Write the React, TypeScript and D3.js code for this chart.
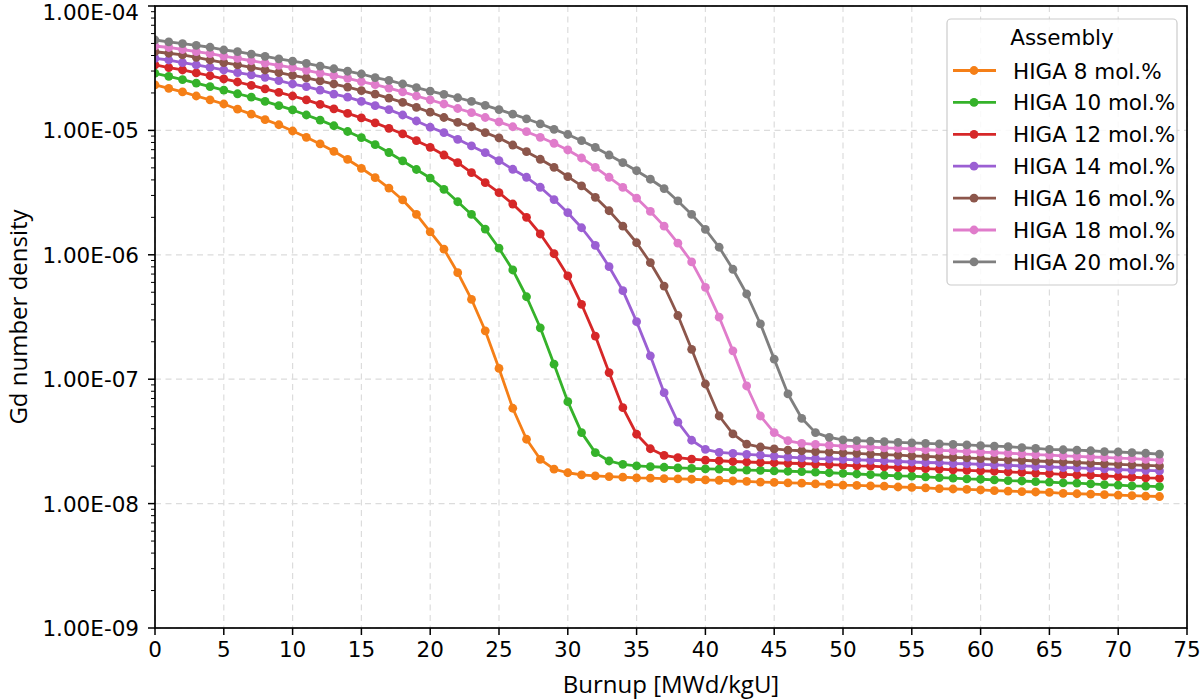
import React from 'react';
import * as d3 from 'd3';

const burnup = [0,1,2,3,4,5,6,7,8,9,10,11,12,13,14,15,16,17,18,19,20,21,22,23,24,25,26,27,28,29,30,31,32,33,34,35,36,37,38,39,40,41,42,43,44,45,46,47,48,49,50,51,52,53,54,55,56,57,58,59,60,61,62,63,64,65,66,67,68,69,70,71,72,73];

const higa8 = [2.32e-5,2.18e-5,2.04e-5,1.89e-5,1.76e-5,1.63e-5,1.48e-5,1.35e-5,1.22e-5,1.11e-5,
  9.89e-6,8.80e-6,7.78e-6,6.79e-6,5.84e-6,4.96e-6,4.17e-6,3.44e-6,2.76e-6,2.11e-6,1.53e-6,1.11e-6,
  7.18e-7,4.39e-7,2.45e-7,1.22e-7,
  5.84e-8,3.29e-8,2.27e-8,1.89e-8,1.77e-8,1.70e-8,1.67e-8,1.65e-8,1.63e-8,1.61e-8,
  1.60e-8,1.59e-8,1.58e-8,1.57e-8,1.55e-8,1.54e-8,1.52e-8,1.51e-8,1.49e-8,1.48e-8,
  1.47e-8,1.46e-8,1.44e-8,1.43e-8,1.41e-8,1.40e-8,1.39e-8,1.38e-8,1.36e-8,1.35e-8,
  1.34e-8,1.32e-8,1.31e-8,1.30e-8,1.29e-8,1.27e-8,1.26e-8,1.25e-8,1.24e-8,1.23e-8,
  1.21e-8,1.20e-8,1.19e-8,1.18e-8,1.17e-8,1.16e-8,1.15e-8,1.14e-8];

const higa10 = [2.88e-5,2.72e-5,2.56e-5,2.40e-5,2.25e-5,2.11e-5,1.97e-5,1.85e-5,1.71e-5,1.58e-5,1.46e-5,1.33e-5,1.21e-5,1.09e-5,
  9.80e-6,8.74e-6,7.68e-6,6.64e-6,5.68e-6,4.85e-6,4.14e-6,3.36e-6,2.67e-6,2.11e-6,1.61e-6,1.13e-6,
  7.55e-7,4.60e-7,2.59e-7,1.32e-7,
  6.60e-8,3.72e-8,2.57e-8,2.20e-8,2.07e-8,2.01e-8,1.98e-8,1.96e-8,1.94e-8,1.92e-8,
  1.90e-8,1.89e-8,1.87e-8,1.86e-8,1.85e-8,1.83e-8,1.82e-8,1.81e-8,1.79e-8,1.77e-8,
  1.75e-8,1.73e-8,1.71e-8,1.69e-8,1.67e-8,1.66e-8,1.64e-8,1.62e-8,1.60e-8,1.58e-8,
  1.57e-8,1.55e-8,1.53e-8,1.52e-8,1.50e-8,1.49e-8,1.47e-8,1.46e-8,1.44e-8,1.42e-8,
  1.41e-8,1.39e-8,1.38e-8,1.37e-8];

const higa12 = [3.36e-5,3.20e-5,3.06e-5,2.90e-5,2.75e-5,2.59e-5,2.45e-5,2.30e-5,2.16e-5,2.02e-5,1.89e-5,1.76e-5,1.62e-5,1.49e-5,1.37e-5,1.26e-5,1.15e-5,1.04e-5,
  9.36e-6,8.27e-6,7.31e-6,6.34e-6,5.50e-6,4.57e-6,3.80e-6,3.16e-6,2.56e-6,2.00e-6,1.47e-6,1.02e-6,
  6.76e-7,4.00e-7,2.22e-7,1.13e-7,
  5.90e-8,3.61e-8,2.76e-8,2.44e-8,2.34e-8,2.28e-8,
  2.24e-8,2.21e-8,2.18e-8,2.16e-8,2.14e-8,2.13e-8,2.11e-8,2.10e-8,2.08e-8,2.06e-8,
  2.04e-8,2.01e-8,2.00e-8,1.97e-8,1.95e-8,1.93e-8,1.91e-8,1.89e-8,1.87e-8,1.85e-8,
  1.83e-8,1.82e-8,1.80e-8,1.78e-8,1.76e-8,1.74e-8,1.72e-8,1.70e-8,1.69e-8,1.67e-8,
  1.65e-8,1.63e-8,1.61e-8,1.60e-8];

const higa14 = [3.80e-5,3.68e-5,3.50e-5,3.36e-5,3.21e-5,3.06e-5,2.91e-5,2.79e-5,2.67e-5,2.51e-5,2.36e-5,2.25e-5,2.11e-5,1.96e-5,1.85e-5,1.71e-5,1.58e-5,1.47e-5,1.33e-5,1.19e-5,1.06e-5,
  9.59e-6,8.48e-6,7.50e-6,6.62e-6,5.71e-6,4.87e-6,4.20e-6,3.49e-6,2.78e-6,2.18e-6,1.65e-6,1.19e-6,
  8.02e-7,5.15e-7,2.90e-7,1.54e-7,
  7.79e-8,4.51e-8,3.23e-8,
  2.73e-8,2.58e-8,2.53e-8,2.49e-8,2.45e-8,2.41e-8,2.36e-8,2.33e-8,2.30e-8,2.29e-8,
  2.27e-8,2.25e-8,2.23e-8,2.21e-8,2.18e-8,2.16e-8,2.14e-8,2.13e-8,2.10e-8,2.09e-8,
  2.07e-8,2.05e-8,2.03e-8,2.01e-8,1.99e-8,1.97e-8,1.95e-8,1.94e-8,1.92e-8,1.90e-8,
  1.88e-8,1.86e-8,1.85e-8,1.83e-8];

const higa16 = [4.29e-5,4.17e-5,4.04e-5,3.87e-5,3.68e-5,3.50e-5,3.36e-5,3.21e-5,3.06e-5,2.91e-5,2.77e-5,2.64e-5,2.50e-5,2.36e-5,2.23e-5,2.09e-5,1.96e-5,1.82e-5,1.68e-5,1.53e-5,1.40e-5,1.27e-5,1.16e-5,1.07e-5,
  9.59e-6,8.69e-6,7.63e-6,6.74e-6,5.86e-6,5.05e-6,4.25e-6,3.58e-6,2.90e-6,2.26e-6,1.70e-6,1.25e-6,
  8.64e-7,5.61e-7,3.25e-7,1.74e-7,
  9.15e-8,5.06e-8,3.63e-8,3.01e-8,2.85e-8,2.75e-8,2.69e-8,2.66e-8,2.62e-8,2.59e-8,
  2.56e-8,2.53e-8,2.50e-8,2.48e-8,2.45e-8,2.42e-8,2.40e-8,2.37e-8,2.35e-8,2.33e-8,
  2.30e-8,2.27e-8,2.25e-8,2.23e-8,2.20e-8,2.18e-8,2.16e-8,2.14e-8,2.11e-8,2.09e-8,
  2.07e-8,2.05e-8,2.03e-8,2.01e-8];

const higa18 = [4.77e-5,4.64e-5,4.47e-5,4.29e-5,4.14e-5,3.96e-5,3.80e-5,3.63e-5,3.48e-5,3.33e-5,3.19e-5,3.04e-5,2.89e-5,2.76e-5,2.62e-5,2.47e-5,2.33e-5,2.19e-5,2.04e-5,1.89e-5,1.76e-5,1.63e-5,1.50e-5,1.39e-5,1.27e-5,1.17e-5,1.07e-5,
  9.76e-6,8.80e-6,7.88e-6,6.96e-6,6.00e-6,5.05e-6,4.20e-6,3.48e-6,2.86e-6,2.23e-6,1.70e-6,1.24e-6,
  8.76e-7,5.48e-7,3.15e-7,1.69e-7,
  8.82e-8,5.06e-8,3.72e-8,3.20e-8,3.05e-8,2.99e-8,2.95e-8,
  2.90e-8,2.87e-8,2.84e-8,2.80e-8,2.78e-8,2.75e-8,2.71e-8,2.68e-8,2.65e-8,2.62e-8,
  2.59e-8,2.57e-8,2.54e-8,2.51e-8,2.48e-8,2.45e-8,2.42e-8,2.40e-8,2.37e-8,2.35e-8,
  2.32e-8,2.30e-8,2.27e-8,2.24e-8];

const higa20 = [5.33e-5,5.14e-5,4.99e-5,4.82e-5,4.66e-5,4.43e-5,4.29e-5,4.11e-5,3.94e-5,3.76e-5,3.60e-5,3.46e-5,3.29e-5,3.13e-5,2.99e-5,2.84e-5,2.66e-5,2.52e-5,2.36e-5,2.21e-5,2.07e-5,1.95e-5,1.83e-5,1.71e-5,1.59e-5,1.47e-5,1.35e-5,1.24e-5,1.13e-5,1.02e-5,
  9.27e-6,8.27e-6,7.29e-6,6.34e-6,5.50e-6,4.74e-6,4.05e-6,3.41e-6,2.71e-6,2.11e-6,1.60e-6,1.15e-6,
  7.65e-7,4.84e-7,2.78e-7,1.45e-7,
  7.61e-8,4.85e-8,3.72e-8,3.41e-8,
  3.25e-8,3.21e-8,3.18e-8,3.15e-8,3.11e-8,3.08e-8,3.05e-8,3.02e-8,2.99e-8,2.96e-8,
  2.92e-8,2.90e-8,2.87e-8,2.82e-8,2.78e-8,2.73e-8,2.71e-8,2.69e-8,2.66e-8,2.62e-8,
  2.60e-8,2.57e-8,2.54e-8,2.50e-8];

const seriesNames = ['HIGA 8 mol.%','HIGA 10 mol.%','HIGA 12 mol.%','HIGA 14 mol.%','HIGA 16 mol.%','HIGA 18 mol.%','HIGA 20 mol.%'];
const seriesValues = [higa8, higa10, higa12, higa14, higa16, higa18, higa20];
const seriesColors = ['#f57f17','#35b22a','#d62728','#9b5fd3','#8c564b','#e07ccb','#7f7f7f'];

const xTicks = [0,5,10,15,20,25,30,35,40,45,50,55,60,65,70,75];
const yTicks = [1e-9,1e-8,1e-7,1e-6,1e-5,1e-4];
const yTickLabels = ['1.00E-09','1.00E-08','1.00E-07','1.00E-06','1.00E-05','1.00E-04'];

const xLabel = 'Burnup [MWd/kgU]';
const yLabel = 'Gd number density';
const legendTitle = 'Assembly';

export default function App() {
  const W = 1200, H = 700;
  const m = { l: 155, r: 13, t: 6, b: 72 };
  const x = d3.scaleLinear().domain([0, 75]).range([m.l, W - m.r]);
  const y = d3.scaleLog().domain([1e-9, 1e-4]).range([H - m.b, m.t]);
  const minorTicks = y.ticks().filter(v => !yTicks.some(t => Math.abs(t - v) / t < 1e-6));
  const line = d3.line<number>().x((_, i) => x(burnup[i])).y(d => y(d));
  const tickFont = "'DejaVu Sans', sans-serif";
  const labelFont = "'Open Sans', sans-serif";
  const tickSize = 21.5;

  const legX = 947, legY = 19, legW = 230, legH = 266;
  const rowY0 = 51.5, rowDy = 31.9;

  return (
    <svg width={W} height={H} style={{ position: 'absolute', left: 0, top: 0, background: '#fff' }}>
      <defs>
        <clipPath id="plotclip">
          <rect x={m.l} y={m.t} width={W - m.l - m.r} height={H - m.t - m.b} />
        </clipPath>
      </defs>
      <rect x={0} y={0} width={W} height={H} fill="#fff" />
      {/* grid */}
      <g stroke="#dcdcdc" strokeWidth={1.2} strokeDasharray="6,4.5">
        {xTicks.map(t => (
          <line key={'gx' + t} x1={x(t)} x2={x(t)} y1={m.t} y2={H - m.b} />
        ))}
        {yTicks.map(t => (
          <line key={'gy' + t} x1={m.l} x2={W - m.r} y1={y(t)} y2={y(t)} />
        ))}
      </g>
      {/* series */}
      <g clipPath="url(#plotclip)">
        {seriesValues.map((vals, si) => (
          <g key={'s' + si}>
            <path d={line(vals) || ''} fill="none" stroke={seriesColors[si]} strokeWidth={2.8} strokeLinejoin="round" />
            {vals.map((v, i) => (
              <circle key={i} cx={x(burnup[i])} cy={y(v)} r={4.4} fill={seriesColors[si]} />
            ))}
          </g>
        ))}
      </g>
      {/* axes box */}
      <rect x={m.l} y={m.t} width={W - m.l - m.r} height={H - m.t - m.b} fill="none" stroke="#000" strokeWidth={1.7} />
      {/* x ticks */}
      {xTicks.map(t => (
        <g key={'xt' + t}>
          <line x1={x(t)} x2={x(t)} y1={H - m.b} y2={H - m.b + 7} stroke="#000" strokeWidth={1.5} />
          <text x={x(t)} y={H - m.b + 29} textAnchor="middle" fontFamily={tickFont} fontSize={tickSize} fill="#000">{t}</text>
        </g>
      ))}
      {/* y ticks */}
      {yTicks.map((t, i) => (
        <g key={'yt' + t}>
          <line x1={m.l - 7} x2={m.l} y1={y(t)} y2={y(t)} stroke="#000" strokeWidth={1.5} />
          <text x={m.l - 16} y={Math.max(y(t) + 8, 20)} textAnchor="end" fontFamily={tickFont} fontSize={tickSize} fill="#000">{yTickLabels[i]}</text>
        </g>
      ))}
      {minorTicks.map(t => (
        <line key={'ym' + t} x1={m.l - 4} x2={m.l} y1={y(t)} y2={y(t)} stroke="#000" strokeWidth={1} />
      ))}
      {/* axis labels */}
      <text x={(m.l + W - m.r) / 2} y={H - 7} textAnchor="middle" fontFamily={labelFont} fontSize={24} fill="#000">{xLabel}</text>
      <text transform={`translate(27,${(m.t + H - m.b) / 2}) rotate(-90)`} textAnchor="middle" fontFamily={labelFont} fontSize={24} fill="#000">{yLabel}</text>
      {/* legend */}
      <g>
        <rect x={legX} y={legY} width={legW} height={legH} rx={4} ry={4} fill="#fff" fillOpacity={0.85} stroke="#cccccc" strokeWidth={1.2} />
        <text x={legX + legW / 2} y={legY + 26} textAnchor="middle" fontFamily={tickFont} fontSize={tickSize} fill="#000">{legendTitle}</text>
        {seriesNames.map((name, i) => {
          const cy = legY + rowY0 + i * rowDy;
          return (
            <g key={'lg' + i}>
              <line x1={legX + 6} x2={legX + 49} y1={cy} y2={cy} stroke={seriesColors[i]} strokeWidth={2.8} />
              <circle cx={legX + 27} cy={cy} r={4.4} fill={seriesColors[i]} />
              <text x={legX + 66} y={cy + 8} fontFamily={tickFont} fontSize={tickSize} fill="#000">{name}</text>
            </g>
          );
        })}
      </g>
    </svg>
  );
}
